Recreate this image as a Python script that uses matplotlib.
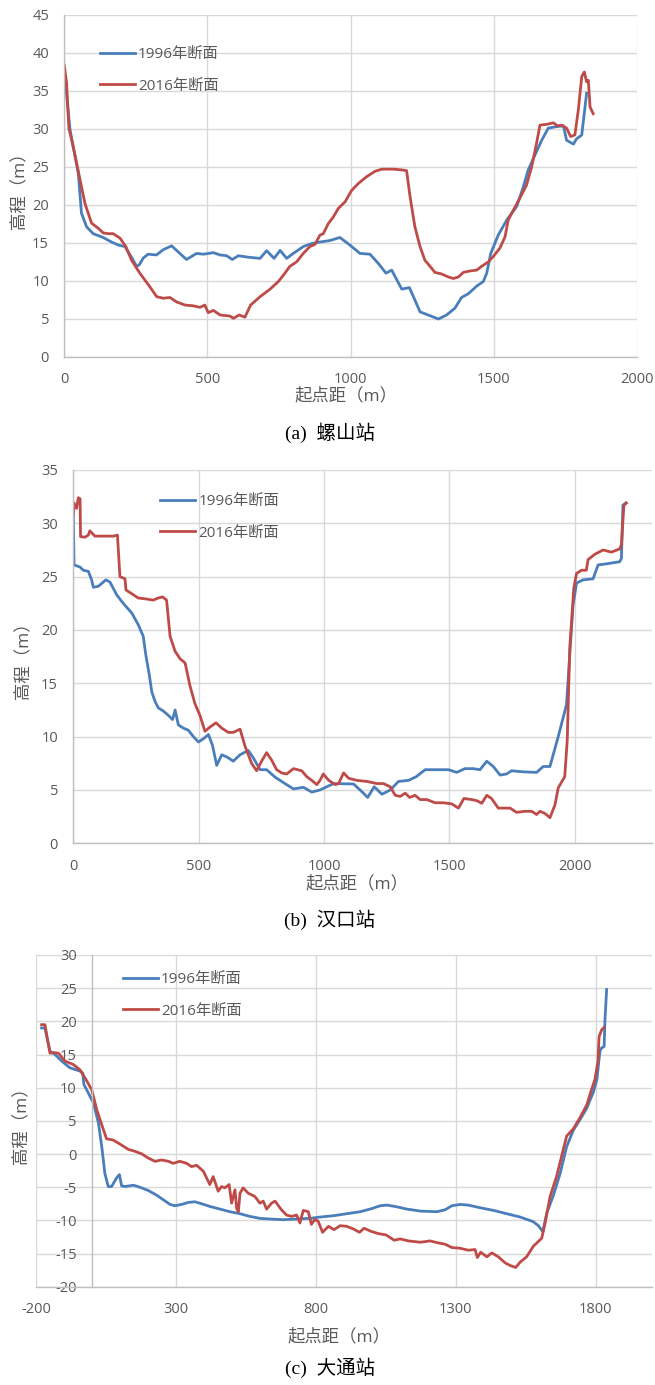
import matplotlib
matplotlib.use('Agg')
import matplotlib.pyplot as plt

plt.rcParams['font.family'] = ['Open Sans', 'Noto Sans CJK SC']
plt.rcParams['axes.unicode_minus'] = False

# 螺山站
ls_x_1996 = [0, 8, 20, 49, 60, 78, 101, 136, 165, 189, 212, 233, 253, 262, 276, 293, 322, 346, 375,
             398, 427, 462, 486, 521, 544, 567, 587, 608, 643, 684, 707, 733, 754, 777, 800, 835, 864,
             893, 928, 963, 998, 1033, 1068, 1097, 1124, 1144, 1179, 1206, 1243, 1278, 1307, 1336,
             1365, 1388, 1412, 1441, 1464, 1476, 1490, 1516, 1546, 1581, 1604, 1621, 1645, 1668, 1691,
             1720, 1744, 1755, 1779, 1790, 1808, 1825]
ls_y_1996 = [37.5, 34.5, 29.9, 24.1, 18.9, 17.1, 16.2, 15.7, 15.1, 14.7, 14.5, 13.2, 11.9, 12.1, 13.0,
             13.5, 13.4, 14.1, 14.6, 13.8, 12.8, 13.6, 13.5, 13.7, 13.4, 13.3, 12.8, 13.3, 13.1, 12.95,
             13.96, 12.95, 14.0, 12.95, 13.6, 14.5, 14.9, 15.1, 15.3, 15.7, 14.7, 13.6, 13.5, 12.3,
             11.0, 11.4, 8.9, 9.1, 5.9, 5.4, 4.96, 5.5, 6.4, 7.8, 8.3, 9.3, 9.9, 11.0, 13.6, 16.0, 18.0,
             19.8, 22.4, 24.6, 26.6, 28.5, 30.1, 30.3, 30.4, 28.5, 28.0, 28.7, 29.2, 34.7]
ls_x_2016 = [0, 8, 16, 26, 41, 55, 72, 95, 119, 136, 154, 171, 195, 215, 235, 264, 299, 323, 346, 369,
             393, 422, 451, 474, 491, 503, 521, 544, 579, 591, 611, 631, 651, 684, 719, 748, 771, 788,
             812, 835, 858, 876, 893, 905, 922, 940, 957, 981, 1004, 1027, 1056, 1085, 1109, 1150, 1179,
             1196, 1208, 1225, 1243, 1260, 1278, 1295, 1318, 1342, 1359, 1377, 1394, 1418, 1441, 1458,
             1482, 1499, 1522, 1540, 1551, 1569, 1592, 1615, 1633, 1650, 1662, 1685, 1709, 1723, 1738,
             1755, 1769, 1784, 1796, 1808, 1817, 1825, 1831, 1837, 1848]
ls_y_2016 = [38.4, 36.0, 30.1, 28.5, 25.9, 23.3, 20.2, 17.6, 16.9, 16.3, 16.2, 16.2, 15.6, 14.5, 12.7,
             11.0, 9.2, 7.9, 7.7, 7.8, 7.2, 6.8, 6.7, 6.5, 6.8, 5.8, 6.1, 5.5, 5.35, 5.05, 5.5, 5.2, 6.8,
             7.9, 8.9, 9.9, 11.0, 11.9, 12.5, 13.6, 14.5, 14.8, 16.0, 16.2, 17.5, 18.4, 19.5, 20.4, 21.9,
             22.8, 23.7, 24.4, 24.7, 24.7, 24.6, 24.5, 21.1, 17.1, 14.5, 12.7, 11.9, 11.1, 10.9, 10.5,
             10.3, 10.5, 11.1, 11.3, 11.4, 11.9, 12.5, 13.2, 14.3, 15.8, 18.0, 19.3, 20.9, 22.6, 25.0,
             28.1, 30.5, 30.6, 30.8, 30.4, 30.5, 30.1, 29.0, 29.2, 32.5, 36.9, 37.5, 36.2, 36.4, 32.9, 32.0]

# 汉口站
hk_x_1996 = [0, 3, 27, 40, 60, 73, 80, 100, 130, 146, 173, 199, 233, 259, 279, 289, 303, 313, 326, 339,
             359, 379, 396, 406, 419, 439, 459, 479, 499, 519, 539, 555, 572, 592, 612, 638, 665, 698,
             718, 745, 771, 805, 844, 878, 918, 951, 984, 1038, 1118, 1151, 1174, 1200, 1231, 1264,
             1297, 1337, 1368, 1403, 1443, 1496, 1529, 1562, 1595, 1622, 1649, 1675, 1702, 1728, 1748,
             1794, 1848, 1874, 1901, 1934, 1967, 1980, 1993, 2007, 2033, 2073, 2093, 2126, 2179, 2186,
             2192, 2203]
hk_y_1996 = [30.8, 26.1, 25.9, 25.6, 25.5, 24.7, 24.0, 24.1, 24.7, 24.5, 23.3, 22.5, 21.6, 20.5, 19.4,
             17.7, 15.8, 14.2, 13.3, 12.7, 12.4, 12.0, 11.6, 12.5, 11.1, 10.8, 10.6, 10.0, 9.5, 9.8,
             10.2, 9.2, 7.3, 8.3, 8.1, 7.7, 8.3, 8.7, 8.0, 6.9, 6.9, 6.2, 5.6, 5.1, 5.25, 4.8, 5.0, 5.6,
             5.56, 4.84, 4.3, 5.3, 4.6, 5.0, 5.8, 5.9, 6.25, 6.9, 6.9, 6.9, 6.65, 7.0, 7.0, 6.9, 7.7,
             7.2, 6.4, 6.5, 6.8, 6.7, 6.65, 7.2, 7.2, 10.0, 13.0, 17.7, 22.3, 24.4, 24.7, 24.8, 26.1,
             26.2, 26.4, 26.7, 31.7, 31.9]
hk_x_2016 = [0, 3, 13, 20, 27, 29, 47, 60, 66, 86, 120, 160, 176, 186, 206, 210, 233, 259, 293, 319,
             339, 356, 372, 386, 406, 426, 446, 465, 485, 505, 525, 545, 569, 592, 618, 638, 665, 685,
             711, 731, 751, 771, 791, 811, 831, 851, 878, 911, 931, 951, 971, 984, 997, 1019, 1045,
             1058, 1078, 1098, 1131, 1171, 1211, 1237, 1264, 1284, 1304, 1324, 1341, 1363, 1383, 1410,
             1443, 1476, 1509, 1536, 1558, 1589, 1609, 1629, 1649, 1668, 1695, 1721, 1742, 1768, 1801,
             1828, 1848, 1861, 1881, 1901, 1921, 1934, 1960, 1970, 1980, 1996, 2007, 2027, 2046, 2053,
             2080, 2113, 2146, 2179, 2186, 2196, 2206]
hk_y_2016 = [30.8, 31.9, 31.4, 32.4, 32.3, 28.75, 28.7, 28.9, 29.3, 28.8, 28.8, 28.8, 28.9, 25.0, 24.8,
             23.75, 23.4, 23.0, 22.9, 22.8, 23.0, 23.1, 22.8, 19.4, 18.0, 17.3, 16.9, 14.8, 13.1, 12.0,
             10.5, 10.9, 11.3, 10.8, 10.4, 10.4, 10.7, 9.1, 7.5, 6.8, 7.7, 8.5, 7.8, 6.9, 6.6, 6.5, 7.0,
             6.8, 6.25, 5.9, 5.5, 5.9, 6.5, 5.9, 5.5, 5.6, 6.6, 6.1, 5.9, 5.8, 5.6, 5.6, 5.3, 4.5, 4.4,
             4.7, 4.3, 4.5, 4.1, 4.1, 3.8, 3.8, 3.7, 3.3, 4.2, 4.1, 4.0, 3.75, 4.5, 4.2, 3.3, 3.3, 3.3,
             2.9, 3.0, 3.0, 2.7, 3.0, 2.8, 2.4, 3.6, 5.2, 6.25, 9.7, 18.3, 23.9, 25.3, 25.6, 25.6, 26.6,
             27.1, 27.5, 27.3, 27.6, 28.0, 31.7, 31.9]

# 大通站
dt_x_1996 = [-180, -168, -162, -150, -132, -108, -79, -43, -33, -29, -13, 5, 23, 35, 46, 58, 70, 88, 98,
             106, 118, 148, 171, 201, 231, 255, 279, 296, 320, 344, 368, 392, 421, 457, 493, 529, 564,
             600, 636, 683, 731, 779, 815, 863, 910, 958, 994, 1030, 1054, 1083, 1125, 1173, 1232,
             1262, 1286, 1315, 1345, 1387, 1435, 1482, 1530, 1577, 1595, 1611, 1625, 1649, 1673, 1696,
             1720, 1744, 1768, 1792, 1804, 1815, 1821, 1830, 1833, 1839]
dt_y_1996 = [19.0, 19.0, 17.8, 15.5, 15.0, 14.0, 13.0, 12.5, 12.2, 10.5, 9.2, 7.7, 4.7, 1.1, -2.9, -4.9,
             -4.9, -3.6, -3.1, -4.8, -4.9, -4.7, -5.0, -5.5, -6.2, -6.9, -7.6, -7.8, -7.6, -7.3, -7.2,
             -7.5, -7.9, -8.3, -8.7, -9.0, -9.4, -9.7, -9.8, -9.9, -9.8, -9.7, -9.5, -9.3, -9.0, -8.7,
             -8.3, -7.8, -7.7, -7.9, -8.3, -8.6, -8.7, -8.4, -7.8, -7.6, -7.7, -8.1, -8.5, -9.0, -9.5,
             -10.2, -10.8, -11.7, -8.9, -6.2, -2.9, 1.1, 3.6, 5.2, 6.9, 9.4, 11.2, 15.5, 16.0, 16.2,
             20.2, 24.8]
dt_x_2016 = [-180, -168, -160, -150, -138, -120, -96, -67, -43, -21, -1, 17, 35, 52, 76, 100, 130, 154,
             177, 201, 225, 249, 273, 290, 314, 338, 356, 374, 398, 421, 433, 451, 463, 475, 490, 499,
             511, 517, 523, 529, 540, 558, 582, 600, 612, 624, 642, 654, 677, 695, 713, 731, 743, 755,
             773, 784, 796, 808, 824, 845, 865, 887, 910, 934, 956, 972, 1000, 1024, 1051, 1080, 1101,
             1131, 1173, 1208, 1238, 1262, 1286, 1315, 1345, 1369, 1377, 1389, 1411, 1429, 1452, 1476,
             1494, 1514, 1530, 1553, 1577, 1607, 1619, 1637, 1660, 1696, 1720, 1744, 1768, 1785, 1797,
             1808, 1812, 1821, 1830]
dt_y_2016 = [19.5, 19.5, 17.5, 15.2, 15.3, 15.2, 14.0, 13.5, 12.7, 11.2, 9.7, 6.7, 4.4, 2.3, 2.1, 1.5,
             0.7, 0.4, 0.04, -0.6, -1.1, -0.9, -1.1, -1.4, -1.1, -1.4, -1.9, -1.7, -2.6, -4.6, -3.4,
             -5.6, -4.9, -5.1, -4.6, -7.4, -5.4, -8.2, -8.7, -5.9, -5.1, -5.9, -6.4, -7.4, -7.1, -8.3,
             -7.4, -7.1, -8.4, -9.2, -9.4, -9.2, -10.4, -8.5, -8.7, -10.6, -9.9, -10.1, -11.8, -10.9,
             -11.4, -10.8, -10.9, -11.3, -11.8, -11.2, -11.7, -12.0, -12.2, -13.0, -12.8, -13.1, -13.3,
             -13.1, -13.4, -13.6, -14.1, -14.2, -14.5, -14.4, -15.6, -14.8, -15.5, -14.9, -15.5, -16.4,
             -16.8, -17.1, -16.3, -15.5, -13.9, -12.7, -10.4, -6.4, -3.4, 2.7, 3.8, 5.5, 7.4, 9.7, 11.2,
             14.0, 17.7, 18.7, 19.1]

series_labels = ['1996年断面', '2016年断面']
captions = ['(a)  螺山站', '(b)  汉口站', '(c)  大通站']

BLUE = '#4a7ebb'
RED = '#be4b48'
GRID = '#d9d9d9'
AXIS = '#bfbfbf'
TEXT = '#595959'

W, H = 655, 1385
fig = plt.figure(figsize=(W / 100, H / 100), dpi=100)


def add_panel(left, right, top, bottom):
    return fig.add_axes([left / W, 1 - bottom / H, (right - left) / W, (bottom - top) / H])


def style(ax, xticks, yticks, xlim, ylim):
    ax.set_xlim(*xlim)
    ax.set_ylim(*ylim)
    ax.set_xticks(xticks)
    ax.set_yticks(yticks)
    ax.grid(True, color=GRID, linewidth=1.0)
    ax.set_axisbelow(True)
    for s in ['top', 'right']:
        ax.spines[s].set_visible(False)
    for s in ['left', 'bottom']:
        ax.spines[s].set_color(AXIS)
        ax.spines[s].set_linewidth(1.0)
    ax.tick_params(length=0, labelsize=10.5, labelcolor=TEXT, pad=11)
    ax.set_xlabel('起点距（m）', fontsize=12.5, color=TEXT, labelpad=0)
    ax.set_ylabel('高程（m）', fontsize=12.5, color=TEXT, labelpad=2)


def draw(ax, x1, y1, x2, y2, anchor):
    ax.plot(x1, y1, color=BLUE, lw=2.0, label=series_labels[0])
    ax.plot(x2, y2, color=RED, lw=2.0, label=series_labels[1])
    leg = ax.legend(loc='upper left', bbox_to_anchor=anchor, frameon=False, fontsize=11,
                    handlelength=2.3, handletextpad=0.2, labelspacing=1.08,
                    borderpad=0, borderaxespad=0)
    for t in leg.get_texts():
        t.set_color(TEXT)


def caption(y, text):
    fig.text(330 / W, 1 - y / H, text, ha='center', va='center', fontsize=14,
             family=['Liberation Serif', 'Noto Sans CJK SC'], color='black')


ax_a = add_panel(64.3, 636.7, 15, 356.7)
style(ax_a, range(0, 2001, 500), range(0, 46, 5), (0, 2000), (0, 45))
draw(ax_a, ls_x_1996, ls_y_1996, ls_x_2016, ls_y_2016, (0.062, 0.906))
ax_a.xaxis.set_label_coords(0.493, -0.091)
ax_a.yaxis.set_label_coords(-0.0634, 0.5)
caption(433, captions[0])

ax_b = add_panel(73.3, 651.5, 470, 843.3)
style(ax_b, range(0, 2001, 500), range(0, 36, 5), (0, 2306), (0, 35))
draw(ax_b, hk_x_1996, hk_y_1996, hk_x_2016, hk_y_2016, (0.15, 0.935))
ax_b.xaxis.set_label_coords(0.491, -0.088)
ax_b.yaxis.set_label_coords(-0.0714, 0.5)
caption(920, captions[1])

ax_c = add_panel(36, 651.7, 955, 1286.7)
style(ax_c, range(-200, 2000, 500), range(-20, 31, 5), (-200, 2000), (-20, 30))
ax_c.spines['left'].set_position(('data', 0))
draw(ax_c, dt_x_1996, dt_y_1996, dt_x_2016, dt_y_2016, (0.141, 0.948))
ax_c.xaxis.set_label_coords(0.492, -0.125)
ax_c.yaxis.set_label_coords(-0.0097, 0.5)
caption(1368, captions[2])

fig.savefig('out.png', dpi=100)
